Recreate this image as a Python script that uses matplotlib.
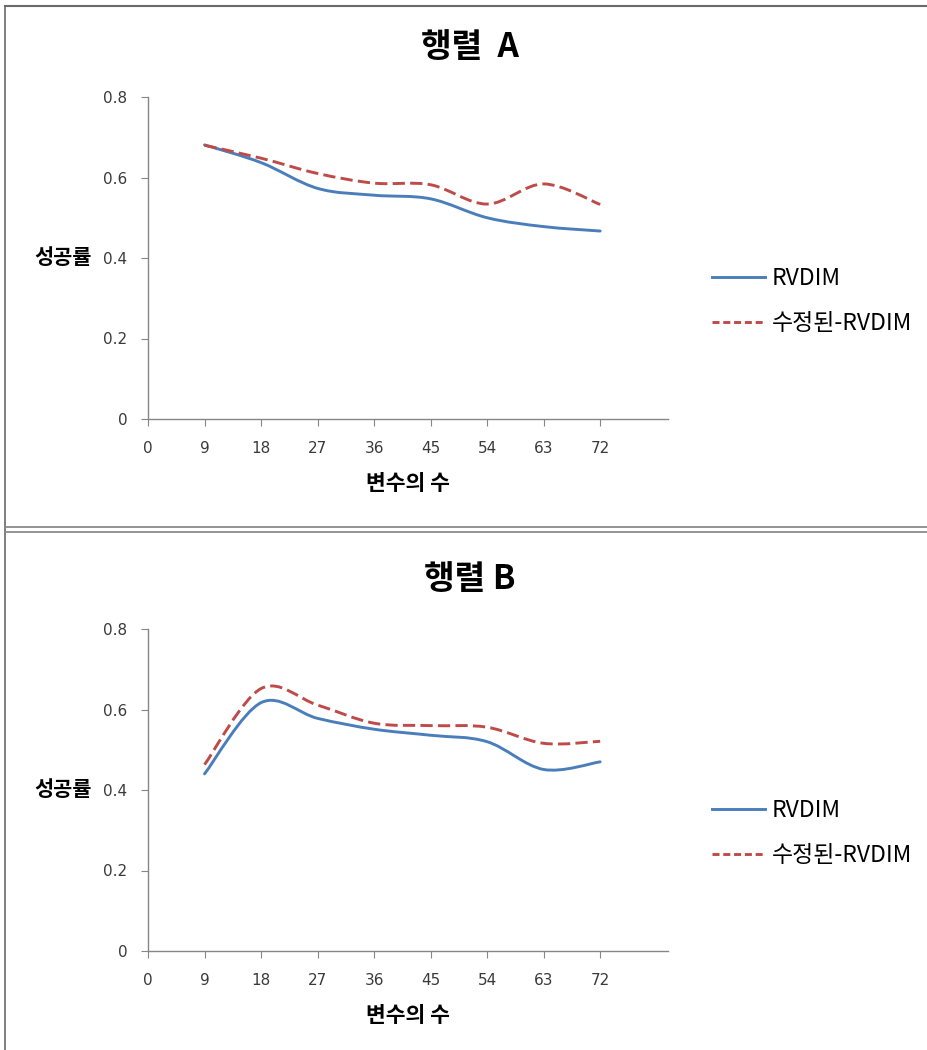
import matplotlib
matplotlib.use('Agg')
import matplotlib.pyplot as plt
import numpy as np
from matplotlib.path import Path
from matplotlib.patches import PathPatch
from matplotlib.lines import Line2D

plt.rcParams['font.family'] = ['Noto Sans CJK KR', 'DejaVu Sans']

# Number of variables and success rates for each matrix
n_vars = [9, 18, 27, 36, 45, 54, 63, 72]
x_ticks = [0, 9, 18, 27, 36, 45, 54, 63, 72]
y_ticks = [0, 0.2, 0.4, 0.6, 0.8]
y_tick_labels = ['0', '0.2', '0.4', '0.6', '0.8']

a_rvdim = [0.681, 0.637, 0.573, 0.556, 0.547, 0.500, 0.478, 0.467]
a_mod_rvdim = [0.680, 0.648, 0.610, 0.586, 0.582, 0.534, 0.584, 0.533]

b_rvdim = [0.440, 0.617, 0.578, 0.551, 0.536, 0.520, 0.451, 0.470]
b_mod_rvdim = [0.463, 0.652, 0.611, 0.566, 0.560, 0.556, 0.516, 0.521]

series_names = ['RVDIM', '수정된-RVDIM']
blue = '#4A7EBB'
red = '#BE4B48'
W, H = 927, 1050


def smooth_path(xs, ys):
    """Bezier path through the points (spreadsheet-style smoothed line)."""
    pts = np.column_stack([xs, ys]).astype(float)
    n = len(pts)
    verts = [pts[0]]
    codes = [Path.MOVETO]
    for i in range(n - 1):
        p0 = pts[max(i - 1, 0)]
        p1 = pts[i]
        p2 = pts[i + 1]
        p3 = pts[min(i + 2, n - 1)]
        c1 = p1 + (p2 - p0) / 6.0
        c2 = p2 - (p3 - p1) / 6.0
        verts += [c1, c2, p2]
        codes += [Path.CURVE4] * 3
    return Path(verts, codes)


def draw_panel(top_px, title, title_y_px, s1, s2, legend_y_px):
    ax = fig.add_axes([148 / W, 1 - (top_px + 322) / H, 520 / W, 322 / H])
    ax.add_patch(PathPatch(smooth_path(n_vars, s1), fill=False,
                           edgecolor=blue, lw=2.1, capstyle='round'))
    ax.add_patch(PathPatch(smooth_path(n_vars, s2), fill=False,
                           edgecolor=red, lw=2.1, linestyle=(0, (4.2, 1.8))))
    ax.set_xlim(0, 82.8)
    ax.set_ylim(0, 0.8)
    ax.set_xticks(x_ticks)
    ax.set_yticks(y_ticks)
    ax.set_yticklabels(y_tick_labels)
    for lbl in ax.get_xticklabels() + ax.get_yticklabels():
        lbl.set_family('DejaVu Sans')
    for side in ['top', 'right']:
        ax.spines[side].set_visible(False)
    for side in ['left', 'bottom']:
        ax.spines[side].set_color('#868686')
        ax.spines[side].set_linewidth(1.0)
    ax.tick_params(axis='both', direction='out', length=5, color='#868686',
                   labelcolor='#3a3a3a', labelsize=11)
    ax.tick_params(axis='y', pad=10)
    ax.tick_params(axis='x', pad=11)
    ax.set_ylabel('성공률', rotation=0, fontsize=15, fontweight='bold',
                  ha='right', va='center')
    ax.yaxis.set_label_coords(-0.108, 0.5)
    ax.set_xlabel('변수의 수', fontsize=15.5, fontweight='bold', va='center')
    ax.xaxis.set_label_coords(0.5, -0.2)
    fig.text(470 / W, 1 - title_y_px / H, title, fontsize=24, fontweight='bold',
             ha='center', va='center')
    handles = [Line2D([], [], color=blue, lw=2.1),
               Line2D([], [], color=red, lw=2.1, linestyle=(0, (2.4, 1.3)))]
    fig.legend(handles, series_names, loc='center left',
               bbox_to_anchor=(712 / W, 1 - legend_y_px / H), frameon=False,
               fontsize=16.5, handlelength=2.3, handletextpad=0.3,
               labelspacing=0.95, borderpad=0, borderaxespad=0)
    return ax


fig = plt.figure(figsize=(W / 100, H / 100), dpi=100)

draw_panel(97, '행렬  A', 47, a_rvdim, a_mod_rvdim, 301)
draw_panel(629, '행렬 B', 579, b_rvdim, b_mod_rvdim, 833)

# panel frames
border = '#8a8a8a'
fig.add_artist(Line2D([5 / W, 5 / W], [0, 1 - 6 / H], color='#6a6a6a', lw=1.2))
fig.add_artist(Line2D([5 / W, 1], [1 - 6 / H, 1 - 6 / H], color='#6a6a6a', lw=1.5))
fig.add_artist(Line2D([5 / W, 1], [1 - 526.5 / H, 1 - 526.5 / H], color=border, lw=1.3))
fig.add_artist(Line2D([5 / W, 1], [1 - 531.5 / H, 1 - 531.5 / H], color=border, lw=1.3))

fig.savefig('out.png', dpi=100)
